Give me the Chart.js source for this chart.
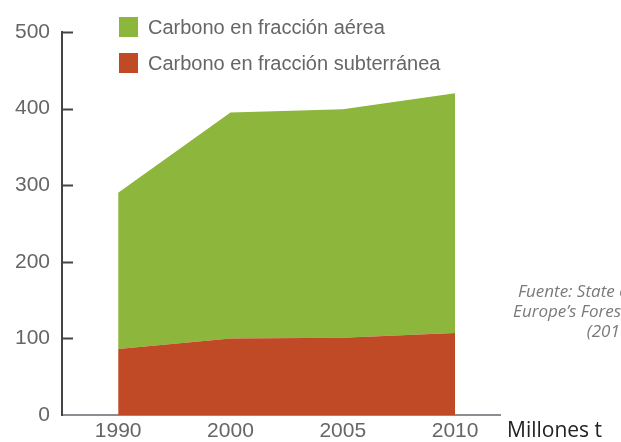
<!DOCTYPE html>
<html>
<head>
<meta charset="utf-8">
<script src="https://cdn.jsdelivr.net/npm/chart.js@4.4.0/dist/chart.umd.min.js"></script>
<style>
  html, body { margin: 0; padding: 0; background: #fff; }
  #wrap { width: 621px; height: 442px; position: relative; }
</style>
</head>
<body>
<div id="wrap"><canvas id="myChart" width="621" height="442"></canvas></div>
<script>
// Datos (millones t)
const years = ['1990', '2000', '2005', '2010'];
const subterranea = [86, 100, 101, 107];
const aerea = [204, 295, 298, 313];
const yTicks = [0, 100, 200, 300, 400, 500];

const labelAerea = 'Carbono en fracción aérea';
const labelSub = 'Carbono en fracción subterránea';
const unitLabel = 'Millones t';
const sourceLines = ['Fuente: State of', 'Europe\u2019s Forests', '(2011)'];

const green = 'rgb(141, 182, 61)';
const red = 'rgb(192, 73, 38)';
const textGrey = '#666';
const sansFamily = '"Liberation Sans", Arial, sans-serif';

function toPoints(arr) {
    return arr.map((v, i) => ({ x: i, y: v }));
}

// kurze Tickstriche rechts von der y-Achse, Legende und Zusatztexte
const extras = {
    id: 'extras',
    afterDraw(chart) {
        const c = chart.ctx;
        const y = chart.scales.y;
        const left = chart.chartArea.left;
        c.save();
        c.strokeStyle = '#444';
        c.lineWidth = 2;
        yTicks.forEach(t => {
            if (t === 0) return;
            const py = Math.round(y.getPixelForValue(t)) + 0.5;
            c.beginPath();
            c.moveTo(left, py);
            c.lineTo(left + 11, py);
            c.stroke();
        });

        // Legende
        const items = [[green, labelAerea, 27], [red, labelSub, 63]];
        c.font = '20px ' + sansFamily;
        c.textBaseline = 'middle';
        items.forEach(([col, txt, cy]) => {
            c.fillStyle = col;
            c.fillRect(119, cy - 10, 19, 20);
            c.fillStyle = textGrey;
            c.fillText(txt, 148, cy + 1);
        });

        // Einheit
        c.font = '21px "Open Sans", sans-serif';
        c.fillStyle = '#222';
        c.textAlign = 'left';
        c.fillText(unitLabel, 507, 431);

        // Quelle
        c.font = 'italic 17px "Open Sans", sans-serif';
        c.fillStyle = '#7a7a7a';
        c.textAlign = 'right';
        sourceLines.forEach((s, i) => c.fillText(s, 634, 292 + i * 20));
        c.restore();
    }
};

const ctx = document.getElementById('myChart').getContext('2d');
const myChart = new Chart(ctx, {
    type: 'line',
    data: {
        datasets: [
            {
                label: labelSub,
                data: toPoints(subterranea),
                backgroundColor: red,
                borderWidth: 0,
                pointRadius: 0,
                fill: 'origin',
                tension: 0,
            },
            {
                label: labelAerea,
                data: toPoints(aerea),
                backgroundColor: green,
                borderWidth: 0,
                pointRadius: 0,
                fill: '-1',
                tension: 0,
            },
        ]
    },
    options: {
        responsive: false,
        animation: false,
        layout: { padding: { top: 32, right: 121, left: 0, bottom: 0 } },
        plugins: {
            legend: { display: false },
            tooltip: { enabled: false },
        },
        scales: {
            x: {
                type: 'linear',
                min: -0.5,
                max: 3.4,
                afterFit: s => { s.height = 27; },
                afterBuildTicks: s => { s.ticks = years.map((_, i) => ({ value: i })); },
                grid: { display: false, drawTicks: false },
                border: { display: true, color: '#8a8d92', width: 2 },
                ticks: {
                    padding: 4,
                    color: textGrey,
                    font: { family: sansFamily, size: 21 },
                    callback: v => years[v],
                },
            },
            y: {
                stacked: true,
                min: 0,
                max: 500,
                afterFit: s => { s.width = 62; },
                afterBuildTicks: s => { s.ticks = yTicks.map(v => ({ value: v })); },
                grid: { display: false, drawTicks: false },
                border: { display: true, color: '#444', width: 2 },
                ticks: {
                    padding: 12,
                    color: textGrey,
                    font: { family: sansFamily, size: 21 },
                },
            }
        }
    },
    plugins: [extras]
});
</script>
</body>
</html>
